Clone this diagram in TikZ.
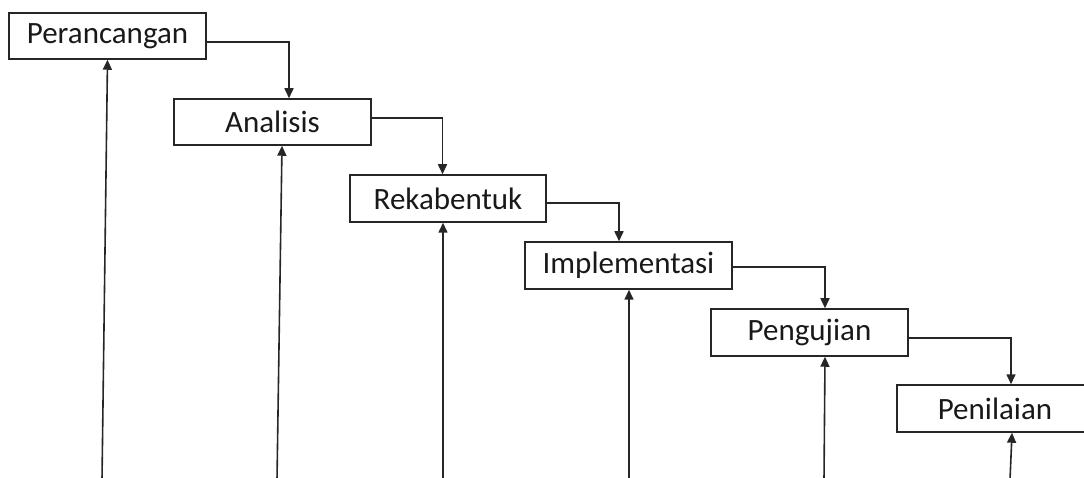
\documentclass[tikz,border=0pt]{standalone}
\usepackage{fontspec}
\setmainfont{Carlito}
\usetikzlibrary{arrows.meta}
\begin{document}
\begin{tikzpicture}[x=1pt,y=-1pt,
  stagebox/.style={draw=black!85,line width=1.5pt,fill=white,inner sep=0pt,
    font=\fontsize{31}{36}\selectfont,text=black!90},
  flow/.style={draw=black!85,line width=1.6pt,-{Triangle[length=10pt,width=9pt]}}]
\useasboundingbox (0,0) rectangle (1084,478);
\clip (0,0) rectangle (1084,478);
\node[stagebox,minimum width=197pt,minimum height=46pt] (p1) at (107.5,36) {Perancangan};
\node[stagebox,minimum width=197pt,minimum height=46pt] (p2) at (272.5,122) {Analisis};
\node[stagebox,minimum width=196pt,minimum height=47pt] (p3) at (448,198.5) {Rekabentuk};
\node[stagebox,minimum width=207pt,minimum height=47pt] (p4) at (628.5,265.5) {Implementasi};
\node[stagebox,minimum width=197pt,minimum height=47pt] (p5) at (809.5,332.5) {Pengujian};
\node[stagebox,minimum width=196pt,minimum height=47pt] (p6) at (995,408.5) {Penilaian};
% cascade connectors
\draw[flow] ([yshift=-6pt]p1.east) -| ([xshift=16.5pt]p2.north);
\draw[flow] ([yshift=4pt]p2.east) -| ([xshift=-5.5pt]p3.north);
\draw[flow] ([yshift=-4.5pt]p3.east) -| ([xshift=-9.5pt]p4.north);
\draw[flow] ([yshift=-1.5pt]p4.east) -| ([xshift=15.5pt]p5.north);
\draw[flow] ([yshift=-5.5pt]p5.east) -| ([xshift=16pt]p6.north);
% feedback lines from the bottom
\coordinate (b1) at (102,480);
\coordinate (b2) at (277,480);
\coordinate (b3) at (443,480);
\coordinate (b4) at (629,480);
\coordinate (b5) at (824,480);
\coordinate (b6) at (1010,480);
\draw[flow] (b1) -- (p1.south);
\draw[flow] (b2) -- ([xshift=9.5pt]p2.south);
\draw[flow] (b3) -- ([xshift=-5pt]p3.south);
\draw[flow] (b4) -- ([xshift=0.5pt]p4.south);
\draw[flow] (b5) -- ([xshift=15.5pt]p5.south);
\draw[flow] (b6) -- ([xshift=17pt]p6.south);
\end{tikzpicture}
\end{document}
